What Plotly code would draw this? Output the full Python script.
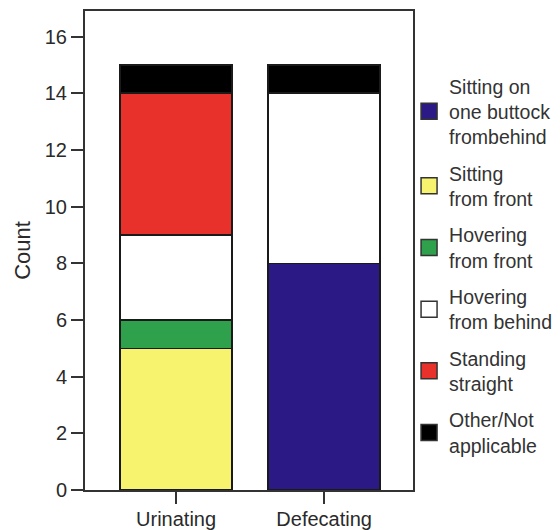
import plotly.graph_objects as go

categories = ["Urinating", "Defecating"]
series_names = [
    "Sitting on<br>one buttock<br>frombehind",
    "Sitting<br>from front",
    "Hovering<br>from front",
    "Hovering<br>from behind",
    "Standing<br>straight",
    "Other/Not<br>applicable",
]
sitting_buttock = [None, 8]
sitting_front = [5, None]
hovering_front = [1, None]
hovering_behind = [3, 6]
standing = [5, None]
other = [1, 1]
y_ticks = [0, 2, 4, 6, 8, 10, 12, 14, 16]

series_values = [sitting_buttock, sitting_front, hovering_front, hovering_behind, standing, other]
colors = ["#2B1A86", "#F8F36E", "#2FA04B", "#FFFFFF", "#E8312A", "#000000"]

fig = go.Figure()
for name, vals, col in zip(series_names, series_values, colors):
    fig.add_trace(go.Bar(
        x=categories, y=vals, name=name, marker_color=col,
        marker_line=dict(color="#1a1a1a", width=1.5), width=0.757,
        showlegend=False,
    ))
for i, (name, col) in enumerate(zip(series_names, colors)):
    fig.add_trace(go.Scatter(
        x=[None], y=[None], mode="markers", name=name, legendgroup=f"g{i}",
        marker=dict(symbol="square", size=16, color=col, line=dict(color="#333", width=1.5)),
    ))

axis_color = "#333333"
fig.update_layout(
    barmode="stack",
    width=552, height=522,
    margin=dict(l=77, r=147, t=3, b=40, autoexpand=False),
    paper_bgcolor="white", plot_bgcolor="white",
    font=dict(family="Liberation Sans, Arial, sans-serif", color="#2a2a2a"),
    legend=dict(
        x=0.988, xanchor="left", y=0.468, yanchor="middle",
        traceorder="grouped", tracegroupgap=8,
        font=dict(size=19.5, color="#333333"),
        bgcolor="rgba(0,0,0,0)",
        itemwidth=30,
    ),
    xaxis=dict(
        range=[-0.615, 1.6], showgrid=False, zeroline=False, automargin=False,
        showline=True, linecolor=axis_color, linewidth=2, mirror=True,
        ticks="outside", ticklen=12, tickwidth=2, tickcolor=axis_color,
        tickfont=dict(size=20), ticklabelstandoff=-2,
    ),
    yaxis=dict(
        range=[0, 16.9], tickvals=y_ticks, showgrid=False, zeroline=False, automargin=False,
        showline=True, linecolor=axis_color, linewidth=2, mirror=True,
        ticks="outside", ticklen=12, tickwidth=2, tickcolor=axis_color,
        tickfont=dict(size=20),
        title=dict(text="Count", font=dict(size=22), standoff=8),
    ),
)

fig.write_html("out.html")
